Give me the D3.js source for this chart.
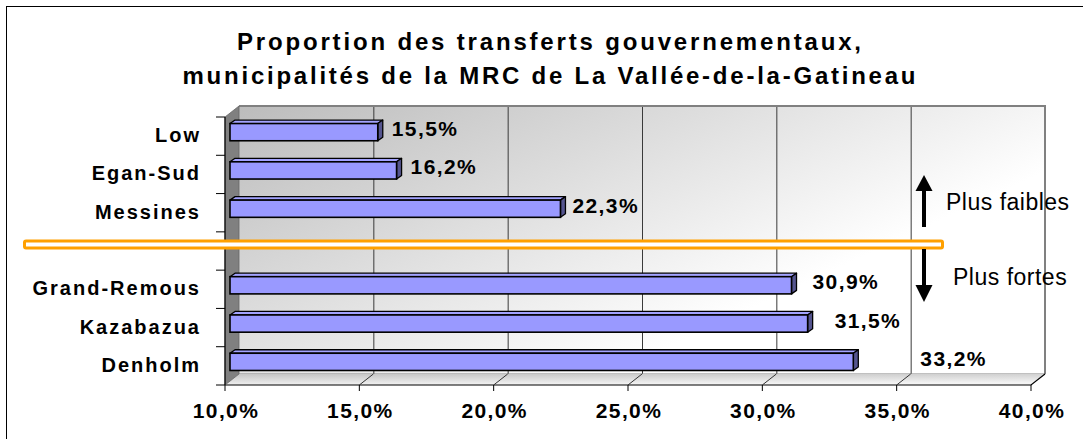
<!DOCTYPE html>
<html>
<head>
<meta charset="utf-8">
<script src="https://cdn.jsdelivr.net/npm/d3@7"></script>
<style>
  html, body { margin: 0; padding: 0; background: #ffffff; }
  svg { display: block; font-family: "Liberation Sans", Arial, sans-serif; }
</style>
</head>
<body>
<script>
// ---------------- data ----------------
const categories = ["Low", "Egan-Sud", "Messines", "", "Grand-Remous", "Kazabazua", "Denholm"];
const shares = [15.5, 16.2, 22.3, null, 30.9, 31.5, 33.2];
const xTicks = [10, 15, 20, 25, 30, 35, 40];
const titleLines = ["Proportion des transferts gouvernementaux,",
                    "municipalités de la MRC de La Vallée-de-la-Gatineau"];
const noteLabels = ["Plus faibles", "Plus fortes"];

// ---------------- layout ----------------
const W = 1083, H = 439;
const DX = 14, DY = 11;               // 3D depth of the plot box
const BAR_OFF = [5, -4];              // bar front face offset inside depth
const BAR_DEPTH = [5, -3.5];          // bar own depth
const labelNudge = [15, 15, 13, 0, 22, 28, 68];

const fr = d3.formatLocale({decimal: ",", thousands: "\u00a0", grouping: [3], currency: ["", " €"]});
const fmt = v => fr.format(".1f")(v) + "%";

const svg = d3.select("body").append("svg").attr("width", W).attr("height", H);
const defs = svg.append("defs");

const wallGrad = defs.append("linearGradient").attr("id", "wallGrad")
  .attr("gradientUnits", "userSpaceOnUse")
  .attr("x1", 239).attr("y1", 107).attr("x2", 408).attr("y2", 469);
wallGrad.append("stop").attr("offset", 0).attr("stop-color", "#bcbcbc");
wallGrad.append("stop").attr("offset", 1).attr("stop-color", "#ffffff");

const floorGrad = defs.append("linearGradient").attr("id", "floorGrad")
  .attr("x1", 0).attr("y1", 0).attr("x2", 0.3).attr("y2", 1);
floorGrad.append("stop").attr("offset", 0).attr("stop-color", "#c4c4c4");
floorGrad.append("stop").attr("offset", 1).attr("stop-color", "#f4f4f4");

// outer frame (only top & left visible)
svg.append("rect").attr("x", 6.5).attr("y", 6.5).attr("width", 1100).attr("height", 460)
  .attr("fill", "none").attr("stroke", "#000").attr("stroke-width", 1);

const x = d3.scaleLinear().domain([10, 40]).range([225, 1031]);
const y = d3.scaleBand().domain(d3.range(categories.length)).range([117, 385])
  .paddingInner(0.55).paddingOuter(0.275);
const yTop = 117, yBot = 385;
const x0 = x(10), x1 = x(40);
const line = d3.line();

// back wall
svg.append("rect").attr("x", x0 + DX).attr("y", yTop - DY)
  .attr("width", x1 - x0).attr("height", yBot - yTop).attr("fill", "url(#wallGrad)");

// gridlines on back wall
svg.append("g").selectAll("line").data(xTicks.filter(t => t > 10 && t < 40)).join("line")
  .attr("x1", d => x(d) + DX + 0.5).attr("x2", d => x(d) + DX + 0.5)
  .attr("y1", yTop - DY).attr("y2", yBot - DY)
  .attr("stroke", "#3a3a3a").attr("stroke-width", 1);

// wall borders
svg.append("path").attr("d", line([[x0 + DX, yTop - DY], [x1 + DX, yTop - DY], [x1 + DX, yBot - DY]]))
  .attr("fill", "none").attr("stroke", "#808080").attr("stroke-width", 2);
svg.append("line").attr("x1", x0 + DX).attr("x2", x1 + DX).attr("y1", yBot - DY).attr("y2", yBot - DY)
  .attr("stroke", "#808080").attr("stroke-width", 1);

// floor
svg.append("path")
  .attr("d", line([[x0, yBot], [x1, yBot], [x1 + DX, yBot - DY], [x0 + DX, yBot - DY]]) + "Z")
  .attr("fill", "url(#floorGrad)");
svg.append("path").attr("d", line([[x0, yBot], [x1, yBot], [x1 + DX, yBot - DY]]))
  .attr("fill", "none").attr("stroke", "#000").attr("stroke-width", 1.2);

// floor diagonals and ticks
const tg = svg.append("g");
tg.selectAll("path.diag").data(xTicks.filter(t => t > 10 && t < 40)).join("path").attr("class", "diag")
  .attr("d", d => line([[x(d), yBot], [x(d) + DX, yBot - DY]]))
  .attr("stroke", "#333").attr("stroke-width", 1).attr("fill", "none");
tg.selectAll("line.tick").data(xTicks).join("line").attr("class", "tick")
  .attr("x1", d => x(d)).attr("x2", d => x(d)).attr("y1", yBot).attr("y2", yBot + 6)
  .attr("stroke", "#000").attr("stroke-width", 1);

// side wall
svg.append("path")
  .attr("d", line([[x0, yTop], [x0 + DX, yTop - DY], [x0 + DX, yBot - DY], [x0, yBot]]) + "Z")
  .attr("fill", "#808080").attr("stroke", "#666").attr("stroke-width", 0.8);
svg.append("line").attr("x1", x0).attr("x2", x0).attr("y1", yTop).attr("y2", yBot)
  .attr("stroke", "#000").attr("stroke-width", 1.2);
// category ticks
svg.append("g").selectAll("line").data(d3.range(categories.length + 1)).join("line")
  .attr("x1", x0 - 9).attr("x2", x0).attr("y1", d => yTop + d * y.step()).attr("y2", d => yTop + d * y.step())
  .attr("stroke", "#000").attr("stroke-width", 1);

// bars
const bw = y.bandwidth();
const barData = shares.map((v, i) => ({v, i})).filter(d => d.v != null);
const bars = svg.append("g").selectAll("g").data(barData).join("g");
bars.append("path") // top face
  .attr("d", d => {
    const xa = x0 + BAR_OFF[0], xb = x(d.v) + BAR_OFF[0], yt = y(d.i) + BAR_OFF[1];
    return line([[xa, yt], [xb, yt], [xb + BAR_DEPTH[0], yt + BAR_DEPTH[1]], [xa + BAR_DEPTH[0], yt + BAR_DEPTH[1]]]) + "Z";
  })
  .attr("fill", "#a3a3ff").attr("stroke", "#000").attr("stroke-width", 1.3).attr("stroke-linejoin", "round");
bars.append("path") // end face
  .attr("d", d => {
    const xb = x(d.v) + BAR_OFF[0], yt = y(d.i) + BAR_OFF[1];
    return line([[xb, yt], [xb + BAR_DEPTH[0], yt + BAR_DEPTH[1]], [xb + BAR_DEPTH[0], yt + bw + BAR_DEPTH[1]], [xb, yt + bw]]) + "Z";
  })
  .attr("fill", "#55558f").attr("stroke", "#000").attr("stroke-width", 1.3).attr("stroke-linejoin", "round");
bars.append("rect") // front face
  .attr("x", x0 + BAR_OFF[0]).attr("y", d => y(d.i) + BAR_OFF[1])
  .attr("width", d => x(d.v) - x0).attr("height", bw)
  .attr("fill", "#9999ff").attr("stroke", "#000").attr("stroke-width", 1.6);

// value labels
svg.append("g").selectAll("text").data(barData).join("text")
  .attr("x", d => x(d.v) + BAR_OFF[0] + labelNudge[d.i] - 1)
  .attr("y", d => y(d.i) + BAR_OFF[1] + bw / 2 + 4)
  .attr("font-size", 21).attr("font-weight", "bold").attr("letter-spacing", 1.4).attr("fill", "#000")
  .text(d => fmt(d.v));

// category labels
svg.append("g").selectAll("text").data(categories).join("text")
  .attr("x", 199 + 2).attr("y", (d, i) => y(i) + bw / 2 + 6)
  .attr("text-anchor", "end").attr("font-size", 20).attr("font-weight", "bold")
  .attr("letter-spacing", 2).text(d => d);

// x tick labels
svg.append("g").selectAll("text").data(xTicks).join("text")
  .attr("x", d => x(d) + 1).attr("y", 417.5)
  .attr("text-anchor", "middle").attr("font-size", 21).attr("font-weight", "bold")
  .attr("letter-spacing", 1.4).text(d => fmt(d));

// title
const titleLen = [624, 733];
svg.append("g").selectAll("text").data(titleLines).join("text")
  .attr("x", 549).attr("y", (d, i) => 49.5 + i * 34.5)
  .attr("text-anchor", "middle").attr("font-size", 24).attr("font-weight", "bold")
  .attr("textLength", (d, i) => titleLen[i]).attr("lengthAdjust", "spacing")
  .text(d => d);

// orange separator
svg.append("rect").attr("x", 24.5).attr("y", 241).attr("width", 918).attr("height", 7)
  .attr("rx", 1.5).attr("fill", "#ffffff").attr("stroke", "#ffa000").attr("stroke-width", 3);

// arrows
const ax = 924;
svg.append("line").attr("x1", ax).attr("x2", ax).attr("y1", 227).attr("y2", 188)
  .attr("stroke", "#000").attr("stroke-width", 4);
svg.append("path").attr("d", line([[ax, 175], [ax + 8.5, 191], [ax - 8.5, 191]]) + "Z").attr("fill", "#000");
svg.append("line").attr("x1", ax).attr("x2", ax).attr("y1", 249).attr("y2", 288)
  .attr("stroke", "#000").attr("stroke-width", 4);
svg.append("path").attr("d", line([[ax, 302], [ax + 8.5, 285], [ax - 8.5, 285]]) + "Z").attr("fill", "#000");

svg.append("g").selectAll("text").data(noteLabels).join("text")
  .attr("x", (d, i) => [946, 953][i]).attr("y", (d, i) => [210, 285][i])
  .attr("font-size", 23).attr("letter-spacing", 0.5).attr("fill", "#000")
  .text(d => d);
</script>
</body>
</html>
